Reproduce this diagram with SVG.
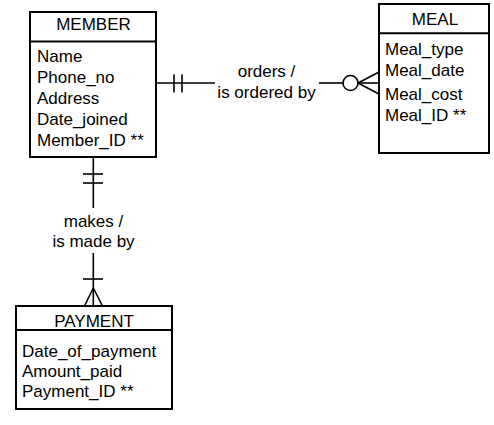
<svg xmlns="http://www.w3.org/2000/svg" width="494" height="425" viewBox="0 0 494 425">
<style>
.box{fill:#fff;stroke:#000;stroke-width:2}
.ln{stroke:#000;stroke-width:1.6;fill:none}
.t{font-family:"Liberation Sans",Arial,sans-serif;font-size:17px;fill:#000}
.c{text-anchor:middle}
</style>
<rect width="494" height="425" fill="#fff"/>
<g id="connectors">
<g id="member-meal">
<line class="ln" x1="156" y1="83" x2="215" y2="83"/>
<line class="ln" x1="174" y1="74.5" x2="174" y2="92.5"/>
<line class="ln" x1="182" y1="74.5" x2="182" y2="92.5"/>
<line class="ln" x1="319" y1="83" x2="343" y2="83"/>
<circle class="ln" cx="350.5" cy="83" r="7.5"/>
<line class="ln" x1="358" y1="83" x2="379" y2="83"/>
<line class="ln" x1="358" y1="83" x2="379" y2="72"/>
<line class="ln" x1="358" y1="83" x2="379" y2="94"/>
<text class="t c" x="266.5" y="77">orders /</text>
<text class="t c" x="266.5" y="98">is ordered by</text>
</g>
<g id="member-payment">
<line class="ln" x1="93.3" y1="157" x2="93.3" y2="208"/>
<line class="ln" x1="83" y1="174" x2="103" y2="174"/>
<line class="ln" x1="83" y1="183" x2="103" y2="183"/>
<line class="ln" x1="93.3" y1="253" x2="93.3" y2="306"/>
<line class="ln" x1="83" y1="279" x2="103" y2="279"/>
<line class="ln" x1="93.3" y1="288" x2="84.5" y2="306"/>
<line class="ln" x1="93.3" y1="288" x2="102.5" y2="306"/>
<text class="t c" x="93.5" y="227">makes /</text>
<text class="t c" x="93.5" y="247">is made by</text>
</g>
</g>
<g id="MEMBER">
<rect class="box" x="30" y="12" width="126" height="145"/>
<line class="ln" x1="30" y1="41.5" x2="156" y2="41.5" style="stroke-width:2"/>
<text class="t c" x="93.5" y="30">MEMBER</text>
<text class="t" x="37" y="62">Name</text>
<text class="t" x="37" y="83">Phone_no</text>
<text class="t" x="37" y="104">Address</text>
<text class="t" x="37" y="125">Date_joined</text>
<text class="t" x="37" y="146">Member_ID **</text>
</g>
<g id="MEAL">
<rect class="box" x="379" y="4" width="110" height="149"/>
<line class="ln" x1="379" y1="33.3" x2="489" y2="33.3" style="stroke-width:2"/>
<text class="t c" x="435" y="25">MEAL</text>
<text class="t" x="385" y="55">Meal_type</text>
<text class="t" x="385" y="76">Meal_date</text>
<text class="t" x="385" y="100">Meal_cost</text>
<text class="t" x="385" y="121">Meal_ID **</text>
</g>
<g id="PAYMENT">
<rect class="box" x="16" y="306" width="156" height="103"/>
<line class="ln" x1="16" y1="330" x2="172" y2="330" style="stroke-width:2"/>
<text class="t c" x="94" y="327">PAYMENT</text>
<text class="t" x="22" y="357">Date_of_payment</text>
<text class="t" x="22" y="377">Amount_paid</text>
<text class="t" x="22" y="397">Payment_ID **</text>
</g>
</svg>
